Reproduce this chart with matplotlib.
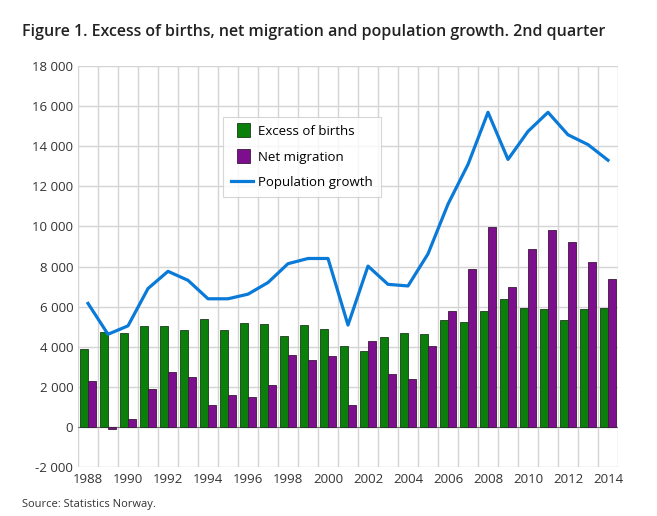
import matplotlib
matplotlib.use("Agg")
import matplotlib.pyplot as plt
from matplotlib.ticker import FuncFormatter, MultipleLocator
from matplotlib.legend_handler import HandlerPatch
from matplotlib.patches import Rectangle
import numpy as np

plt.rcParams['font.family'] = ['Open Sans', 'DejaVu Sans']
plt.rcParams['axes.unicode_minus'] = False

years = list(range(1988, 2015))
excess_births = [3900, 4750, 4700, 5050, 5050, 4850, 5380, 4840, 5170, 5140,
                 4540, 5070, 4890, 4050, 3770, 4490, 4690, 4620, 5330, 5220,
                 5780, 6390, 5910, 5880, 5330, 5880, 5930]
net_migration = [2310, -80, 380, 1880, 2720, 2510, 1080, 1590, 1470, 2110,
                 3600, 3350, 3550, 1080, 4260, 2660, 2380, 4050, 5780, 7860,
                 9950, 6970, 8850, 9820, 9240, 8220, 7360]
pop_growth = [6160, 4620, 5040, 6900, 7760, 7310, 6390, 6390, 6620, 7200,
              8140, 8400, 8400, 5080, 8020, 7110, 7030, 8630, 11110, 13090,
              15690, 13340, 14740, 15690, 14570, 14080, 13300]

fig = plt.figure(figsize=(6.57, 5.16), dpi=100)
ax = fig.add_axes([78/657, 1 - 467/516, 540/657, 401/516])

x = np.array(years)
w = 0.38
b1 = ax.bar(x - w/2, excess_births, w, color='#0a800a', edgecolor='#1e3a1e',
            linewidth=0.6, label='Excess of births', zorder=3)
b2 = ax.bar(x + w/2, net_migration, w, color='#7d0f8e', edgecolor='#3a1a3a',
            linewidth=0.6, label='Net migration', zorder=3)
ln, = ax.plot(x, pop_growth, color='#0a7ad8', linewidth=2.3, label='Population growth',
              zorder=4)
ax.axhline(0, color='#777777', linewidth=0.8, zorder=2)

ax.set_xlim(1987.5, 2014.5)
ax.set_ylim(-2000, 18000)
ax.yaxis.set_major_locator(MultipleLocator(2000))
ax.yaxis.set_major_formatter(FuncFormatter(lambda v, p: '{:,}'.format(int(v)).replace(',', ' ')))
ax.set_xticks(years[::2])
ax.set_xticks(np.arange(1987.5, 2015, 1), minor=True)
ax.grid(False)
ax.yaxis.grid(True, color='#d4d4d4', linewidth=1, zorder=0)
ax.xaxis.grid(True, which='minor', color='#d4d4d4', linewidth=1, zorder=0)
ax.tick_params(axis='both', which='both', length=0, labelsize=9.5, colors='#333333')
ax.tick_params(axis='x', pad=4)
for s in ax.spines.values():
    s.set_visible(False)


def square(legend, orig_handle, xdescent, ydescent, width, height, fontsize):
    side = 1.05 * fontsize
    return Rectangle((width - side - 2, height / 2 - side / 2), side, side)


h1 = b1.patches[0]
h2 = b2.patches[0]
leg = ax.legend([h1, h2, ln], ['Excess of births', 'Net migration', 'Population growth'],
                loc='upper left', bbox_to_anchor=(0.256, 0.889), fontsize=9.5,
                frameon=True, fancybox=False, edgecolor='#cccccc',
                handlelength=1.7, handletextpad=0.4, borderpad=0.6, labelspacing=0.95,
                handler_map={h1: HandlerPatch(patch_func=square),
                             h2: HandlerPatch(patch_func=square)})
leg.get_frame().set_linewidth(0.8)

fig.text(22/657, 1 - 32/516, 'Figure 1. Excess of births, net migration and population growth. 2nd quarter',
         fontsize=11.5, fontweight='semibold', color='#222222', va='center')
fig.text(22/657, 1 - 504/516, 'Source: Statistics Norway.', fontsize=8, color='#333333', va='center')

fig.savefig('out.png', dpi=100)
